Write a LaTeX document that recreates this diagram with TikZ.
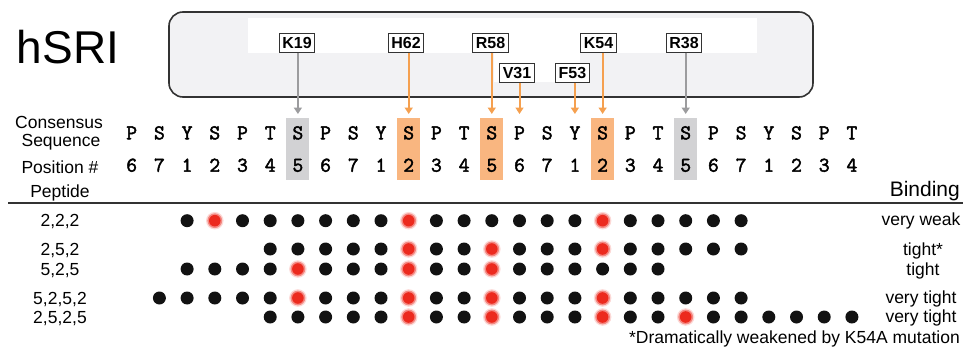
\documentclass[tikz,border=0pt]{standalone}
\usepackage{fontspec}
\setmainfont{Liberation Sans}
\newfontfamily\seqfont[FakeBold=2.2]{Latin Modern Mono}
\usetikzlibrary{arrows.meta}
\definecolor{orng}{HTML}{F5A04F}
\definecolor{orngbox}{HTML}{F9B680}
\definecolor{gbox}{HTML}{D2D2D4}
\definecolor{garr}{HTML}{9C9C9E}
\definecolor{panelc}{HTML}{F2F2F4}
\definecolor{dotred}{HTML}{EC2A1E}
\definecolor{framec}{HTML}{333333}
\newcommand\colx[1]{131.7+27.7*#1}
\newcommand\dotrow[4]{%
  \foreach \c in {#2,...,#3}{\fill[black!93] ({\colx{\c}},#1) circle (6.5);}
  \foreach \r in {#4}{%
    \fill[white] ({\colx{\r}},#1) circle (7.2);
    \fill[dotred,opacity=.18] ({\colx{\r}},#1) circle (8.8);
    \fill[dotred,opacity=.45] ({\colx{\r}},#1) circle (7.4);
    \fill[dotred] ({\colx{\r}},#1) circle (5.8);}}
\begin{document}
\begin{tikzpicture}[x=1pt,y=-1pt,
  lbl/.style={draw=framec, line width=1pt, fill=white, font=\fontsize{16}{16}\selectfont\bfseries,
    inner xsep=3pt, inner ysep=3.8pt, text height=11.4pt, text depth=0pt},
  seq/.style={font=\fontsize{21}{21}\selectfont\seqfont, inner sep=0pt, anchor=base},
  hbox/.style={minimum width=23pt, minimum height=62pt, inner sep=0pt},
  side/.style={font=\fontsize{17.5}{18}\selectfont, anchor=base, inner sep=0pt},
  bind/.style={font=\fontsize{17.5}{18}\selectfont, anchor=base, inner sep=0pt},
  oarrow/.style={draw=orng, line width=2pt, -{Triangle[width=8pt,length=6.5pt]}},
  garrow/.style={draw=garr, line width=1.6pt, -{Triangle[width=8pt,length=6.5pt]}}]
\useasboundingbox (0,0) rectangle (963,351);

% title
\node[font=\fontsize{46}{46}\selectfont, anchor=base, inner sep=0pt] (title) at (68,63) {hSRI};

% protein panel
\node[draw=framec, line width=1.6pt, fill=panelc, rounded corners=14pt,
  minimum width=644pt, minimum height=85pt, inner sep=0pt] (panel) at (491,54.5) {};
\fill[white] (248,18) rectangle (757,52.5);
\fill[white] (494,52.5) rectangle (580,82);

% row labels
\node[side] (cons) at (59,128) {Consensus};
\node[side] (seql) at (61,146) {Sequence};
\node[side] (posl) at (60,173) {Position \#};
\node[side] (pepl) at (60,197) {Peptide};

% highlight boxes
\foreach \i/\cc in {6/gbox,10/orngbox,13/orngbox,17/orngbox,20/gbox}
  \node[hbox, fill=\cc] (h\i) at ({\colx{\i}},149) {};

% sequence and positions
\foreach \l [count=\i from 0] in {P,S,Y,S,P,T,S,P,S,Y,S,P,T,S,P,S,Y,S,P,T,S,P,S,Y,S,P,T}
  \node[seq] (s\i) at ({\colx{\i}},139.3) {\l};
\foreach \n [count=\i from 0] in {6,7,1,2,3,4,5,6,7,1,2,3,4,5,6,7,1,2,3,4,5,6,7,1,2,3,4}
  \node[seq] (n\i) at ({\colx{\i}},171.7) {\n};

% residue labels
\node[lbl] (K19) at (297,42.5) {K19};
\node[lbl] (H62) at (406,42.5) {H62};
\node[lbl] (R58) at (490.5,42.5) {R58};
\node[lbl] (V31) at (517,72.5) {V31};
\node[lbl] (F53) at (572.5,72.5) {F53};
\node[lbl] (K54) at (598.5,42.5) {K54};
\node[lbl] (R38) at (684,42.5) {R38};

% arrow tips
\foreach \i in {6,10,13,14,16,17,20}
  \coordinate (a\i) at ({\colx{\i}},114);

\draw[garrow] (K19.south -| a6) -- (a6);
\draw[oarrow] (H62.south -| a10) -- (a10);
\draw[oarrow] (R58.south -| a13) -- (a13);
\draw[oarrow] (V31.south -| a14) -- (a14);
\draw[oarrow] (F53.south -| a16) -- (a16);
\draw[oarrow] (K54.south -| a17) -- (a17);
\draw[garrow] (R38.south -| a20) -- (a20);

% Binding header and rule
\node[font=\fontsize{21}{21}\selectfont, anchor=base east, inner sep=0pt] (bindh) at (960,196.7) {Binding};
\draw[framec, line width=1.8pt] (8,203) -- (963,203);

% peptide labels
\node[side] (p1) at (60,226.5) {2,2,2};
\node[side] (p2) at (60,255) {2,5,2};
\node[side] (p3) at (60,275) {5,2,5};
\node[side] (p4) at (60,304) {5,2,5,2};
\node[side] (p5) at (60,323.5) {2,5,2,5};

% dots
\dotrow{220.7}{2}{22}{3,10,17}
\dotrow{249}{5}{22}{10,13,17}
\dotrow{269}{2}{19}{6,10,13}
\dotrow{298}{1}{22}{6,10,13,17}
\dotrow{317}{5}{26}{10,13,17,20}

% binding labels
\node[bind] (b1) at (921,225.5) {very weak};
\node[bind] (b2) at (923,255) {tight*};
\node[bind] (b3) at (923,275) {tight};
\node[bind] (b4) at (921,303.5) {very tight};
\node[bind] (b5) at (921,322.5) {very tight};
\node[font=\fontsize{17.5}{18}\selectfont, anchor=base east, inner sep=0pt] (foot) at (960,343) {*Dramatically weakened by K54A mutation};
\end{tikzpicture}
\end{document}
